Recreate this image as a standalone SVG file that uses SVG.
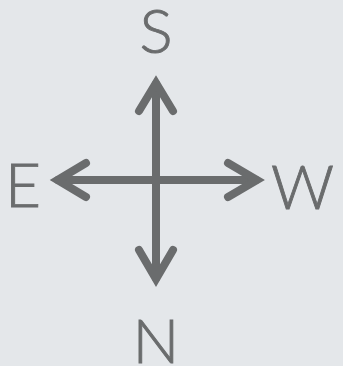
<svg xmlns="http://www.w3.org/2000/svg" width="343" height="366" viewBox="0 0 343 366">
<style>
.lbl{font-family:"Lato","Open Sans","Liberation Sans",sans-serif;font-weight:300;font-size:62px;fill:#6a6c6d;stroke:#6a6c6d;stroke-width:0.9}
.ln{stroke:#6a6c6d;stroke-width:8;fill:none;stroke-linecap:round;stroke-linejoin:miter;stroke-miterlimit:10}
</style>
<rect width="343" height="366" fill="#e4e7ea"/>
<g id="connectors">
<line class="ln" x1="156" y1="84" x2="156" y2="278"/>
<line class="ln" x1="58" y1="180" x2="256" y2="180"/>
<polyline class="ln" points="139,111 156,83 173,111"/>
<polyline class="ln" points="139,250 156,279 173,250"/>
<polyline class="ln" points="86,163 57.5,180 86,197"/>
<polyline class="ln" points="228,163 257,180 228,197"/>
</g>
<g id="S"><text class="lbl" x="156" y="53" text-anchor="middle">S</text></g>
<g id="E"><text class="lbl" x="41" y="207" text-anchor="end">E</text></g>
<g id="W"><text class="lbl" x="271" y="209" textLength="63" lengthAdjust="spacingAndGlyphs">W</text></g>
<g id="N"><text class="lbl" x="156" y="363" text-anchor="middle">N</text></g>
</svg>
